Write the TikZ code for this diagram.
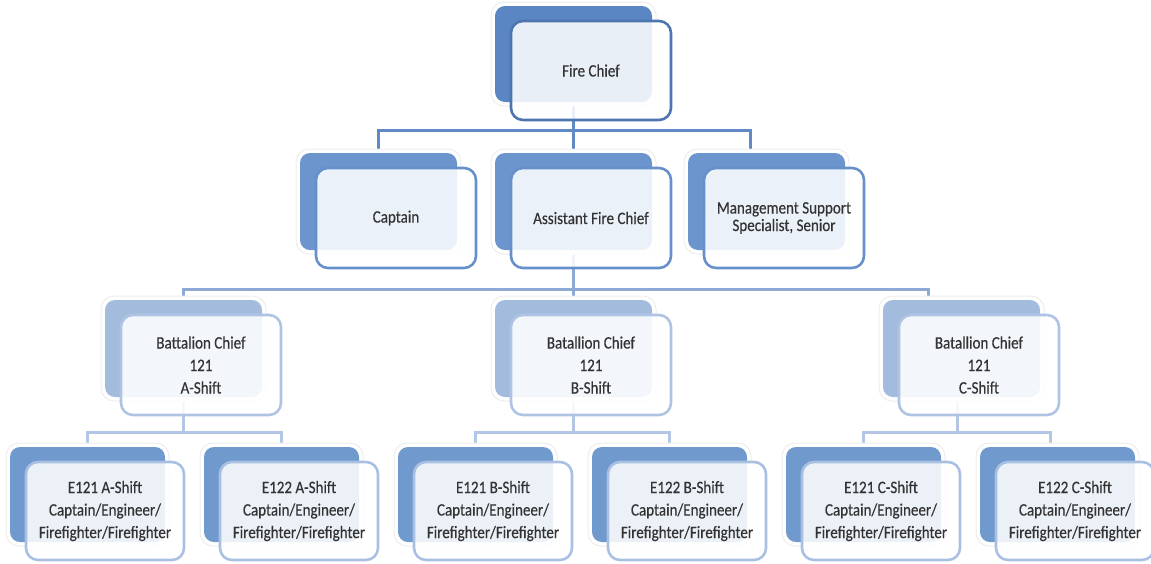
\documentclass[tikz,border=0pt]{standalone}
\usepackage{fontspec}
\setmainfont{Carlito}[FakeStretch=0.86, FakeBold=0.35]
\usetikzlibrary{calc}
\pgfdeclarelayer{bg}
\pgfsetlayers{bg,main}

\definecolor{backA}{HTML}{5A87C3}
\definecolor{edgeA}{HTML}{4D75B0}
\definecolor{backB}{HTML}{6B95CC}
\definecolor{edgeB}{HTML}{6690CA}
\definecolor{backC}{HTML}{A3BCDE}
\definecolor{edgeC}{HTML}{AFC4E3}
\definecolor{backD}{HTML}{7099CE}
\definecolor{edgeD}{HTML}{AAC0E2}
\definecolor{lineA}{HTML}{5F8AC5}
\definecolor{lineB}{HTML}{8DAAD6}
\definecolor{lineC}{HTML}{B3C6E5}
\definecolor{txt}{HTML}{333333}

\tikzset{
  halo/.style={draw=black!7, line width=1pt, fill=white, rounded corners=13pt, inner sep=0pt},
  backbox/.style={rounded corners=10pt, inner sep=0pt, draw=none},
  frontbox/.style={rounded corners=12pt, inner sep=0pt, fill=white, fill opacity=0.87,
    text opacity=1, line width=2.6pt, align=center, text=txt,
    font=\fontsize{17.5}{22.5}\selectfont},
  conn/.style={line width=3pt, line join=miter},
}

% \orgunit{name}{left}{top}{width}{height}{level}{text}
\newcommand\orgunit[7]{%
  \node[halo, minimum width={#4+8}, minimum height={#5+8}] (#1h) at ({#2+#4/2},{#3+#5/2}) {};
  \node[backbox, fill=back#6, minimum width=#4, minimum height=#5] (#1b) at ({#2+#4/2},{#3+#5/2}) {};
  \node[frontbox, draw=edge#6, minimum width={#4+3}, minimum height={#5+3}] (#1f)
    at ({#2+16+(#4+3)/2},{#3+15+(#5+3)/2}) {#7};
}

\begin{document}
\begin{tikzpicture}[x=1pt,y=-1pt]
\useasboundingbox (0,0) rectangle (1151,563);

% top level
\orgunit{fc}{495}{6}{157}{96}{A}{Fire Chief}
% second level
\orgunit{ca}{300}{153}{157}{97}{B}{Captain}
\orgunit{as}{495}{153}{157}{97}{B}{Assistant Fire Chief}
\orgunit{mg}{688}{153}{157}{97}{B}{\raisebox{-3pt}{Management Support}\\[-5pt]\raisebox{-3pt}{Specialist, Senior}}
% battalion chiefs
\orgunit{ba}{105}{300}{157}{97}{C}{Battalion Chief\\121\\A-Shift}
\orgunit{bb}{495}{300}{157}{97}{C}{Batallion Chief\\121\\B-Shift}
\orgunit{bc}{883}{300}{157}{97}{C}{Batallion Chief\\121\\C-Shift}
% engine crews
\orgunit{ea}{10}{447}{155}{95}{D}{E121 A-Shift\\Captain/Engineer/\\Firefighter/Firefighter}
\orgunit{fa}{204}{447}{155}{95}{D}{E122 A-Shift\\Captain/Engineer/\\Firefighter/Firefighter}
\orgunit{eb}{398}{447}{155}{95}{D}{E121 B-Shift\\Captain/Engineer/\\Firefighter/Firefighter}
\orgunit{fb}{592}{447}{155}{95}{D}{E122 B-Shift\\Captain/Engineer/\\Firefighter/Firefighter}
\orgunit{ec}{786}{447}{155}{95}{D}{E121 C-Shift\\Captain/Engineer/\\Firefighter/Firefighter}
\orgunit{fc2}{980}{447}{155}{95}{D}{E122 C-Shift\\Captain/Engineer/\\Firefighter/Firefighter}

\begin{pgfonlayer}{bg}
  % chief to second level
  \draw[conn, lineA] (fcb.south) -- ++(0,28) coordinate (kA);
  \draw[conn, lineA] (cab.north) |- (kA) -| ($(mgb.north)+(-16,0)$);
  \draw[conn, lineA] (kA) -- (asb.north);
  % assistant chief to battalion chiefs
  \draw[conn, lineB] (asb.south) -- ++(0,39) coordinate (kB);
  \draw[conn, lineB] (bab.north) |- (kB) -| ($(bcb.north)+(-33,0)$);
  \draw[conn, lineB] (kB) -- (bbb.north);
  % battalion chiefs to engine crews
  \draw[conn, lineC] (bab.south) -- ++(0,35) coordinate (kCa);
  \draw[conn, lineC] (eab.north) |- (kCa) -| (fab.north);
  \draw[conn, lineC] (bbb.south) -- ++(0,35) coordinate (kCb);
  \draw[conn, lineC] (ebb.north) |- (kCb) -| (fbb.north);
  \draw[conn, lineC] ($(bcb.south)+(-4,0)$) -- ++(0,35) coordinate (kCc);
  \draw[conn, lineC] (ecb.north) |- (kCc) -| ($(fc2b.north)+(-7,0)$);
\end{pgfonlayer}
\end{tikzpicture}
\end{document}
